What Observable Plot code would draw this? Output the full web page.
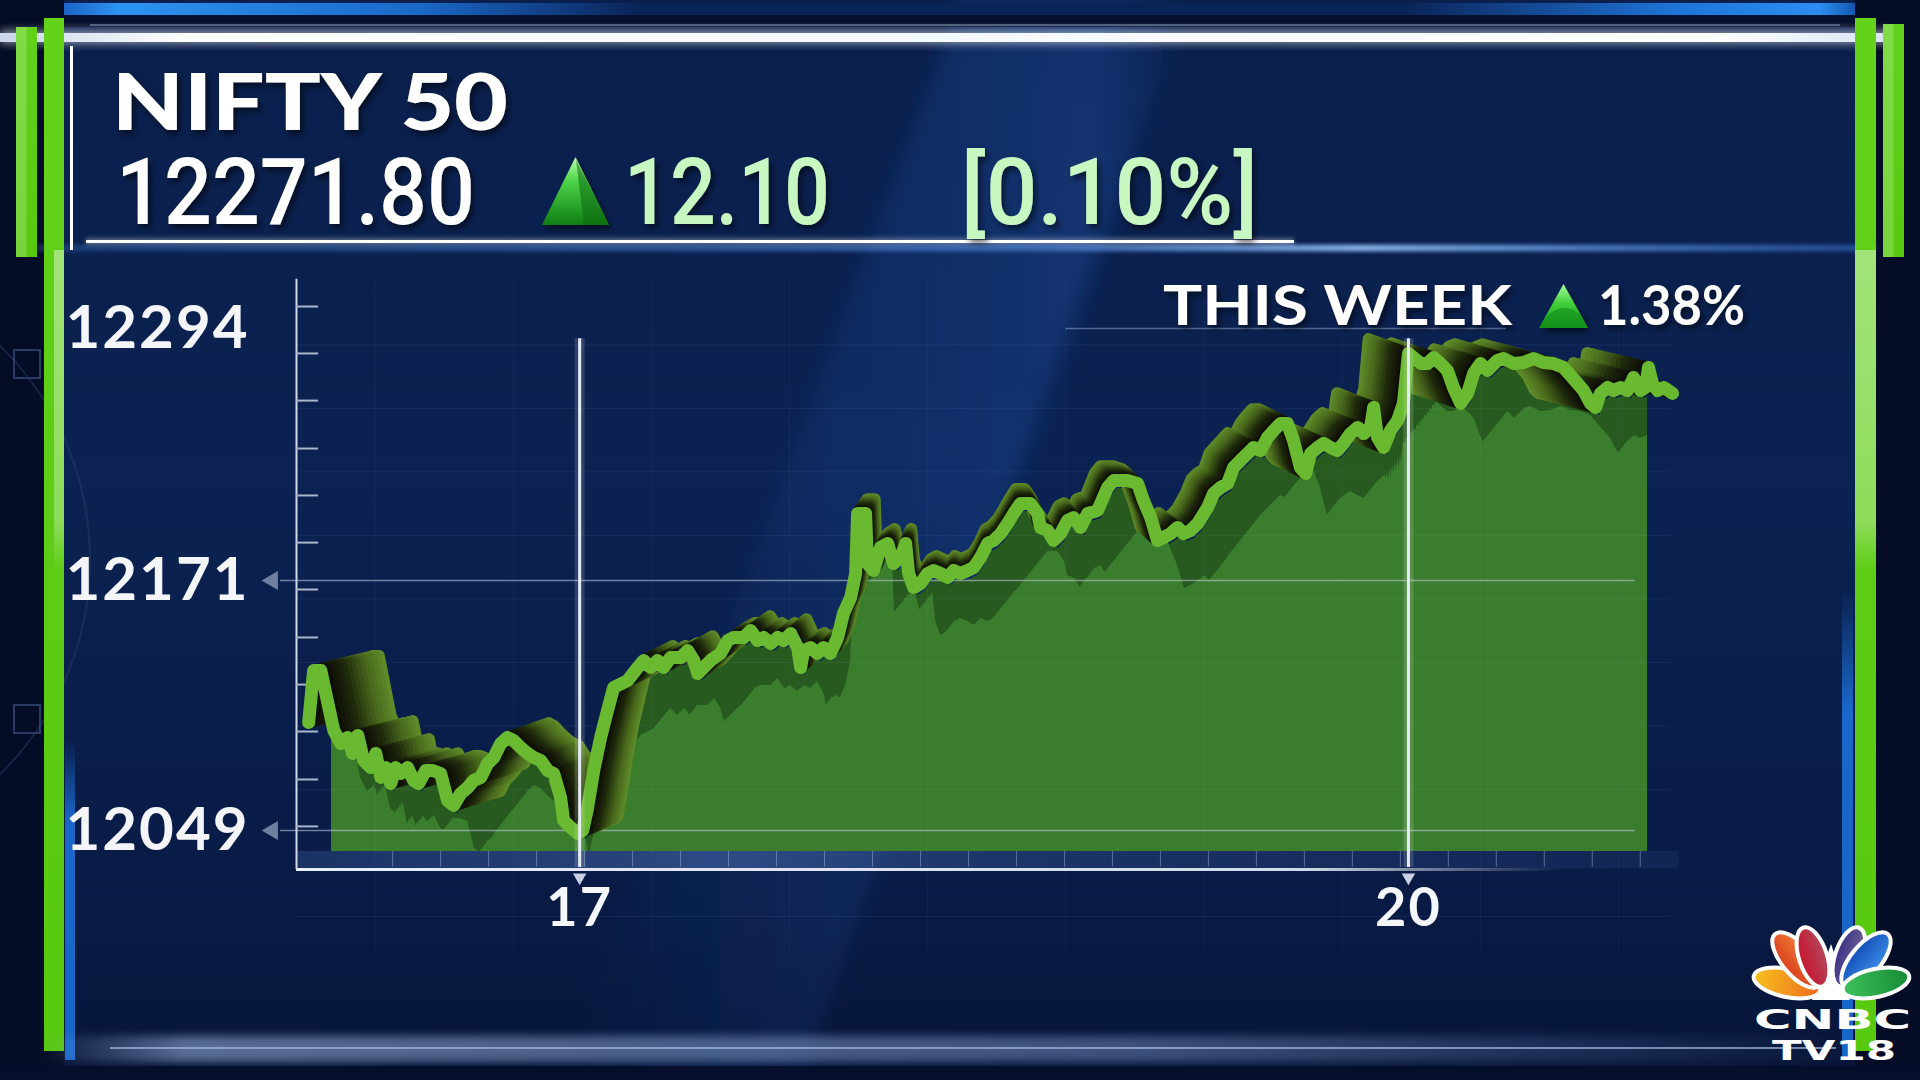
<!DOCTYPE html>
<html><head><meta charset="utf-8">
<script src="https://cdn.jsdelivr.net/npm/d3@7"></script>
<script src="https://cdn.jsdelivr.net/npm/@observablehq/plot@0.6"></script>
<style>
html,body{margin:0;padding:0;background:#030a1f;}
#stage{position:relative;width:1920px;height:1080px;overflow:hidden;}
#stage > svg, #stage > div{position:absolute;left:0;top:0;}
</style></head><body>
<div id="stage"></div>
<script>
// ---------------- DATA ----------------
const indexName = "NIFTY 50";
const lastPrice = "12271.80";
const change = "12.10";
const changePct = "[0.10%]";
const weekLabel = "THIS WEEK";
const weekPct = "1.38%";

// intraday time (day of month, fractional) and index level
const times = [
16.019,16.037,16.063,16.110,16.135,16.160,16.178,16.197,16.218,16.244,
16.262,16.280,16.298,16.316,16.334,16.352,16.377,16.399,16.417,16.443,
16.468,16.497,16.522,16.544,16.569,16.595,16.616,16.642,16.667,16.689,
16.714,16.739,16.761,16.786,16.812,16.834,16.859,16.884,16.906,16.931,
16.942,16.967,16.993,17.011,17.029,17.051,17.076,17.101,
17.123,17.174,17.210,17.232,17.257,17.282,17.304,17.329,17.366,17.391,
17.413,17.427,17.449,17.474,17.510,17.536,17.557,17.594,17.619,17.644,
17.666,17.691,17.717,17.738,17.764,17.789,17.800,17.811,17.836,17.861,
17.883,17.908,17.934,17.955,17.981,17.999,18.006,18.035,18.042,18.064,
18.089,18.115,
18.136,18.162,18.180,18.191,18.209,18.234,18.259,18.281,18.307,18.332,
18.354,18.379,18.404,18.426,18.451,18.477,18.498,18.524,18.549,18.571,
18.596,18.632,18.658,18.668,18.694,18.716,18.741,18.766,18.788,18.813,
18.839,18.875,18.911,18.933,18.983,19.020,19.041,19.067,19.092,19.114,
19.139,19.164,19.186,19.211,19.237,
19.273,19.295,19.320,19.345,19.367,19.392,19.418,19.439,19.465,19.490,
19.512,19.537,19.562,19.584,19.609,19.628,19.646,19.671,19.693,19.718,
19.743,19.765,19.790,19.816,19.838,19.863,19.874,19.888,19.910,19.935,
19.961,19.982,20.000,20.018,20.044,20.069,20.091,20.116,20.141,20.163,
20.189,20.214,20.236,20.261,20.286,20.322,
20.344,20.380,20.417,20.453,20.489,20.525,20.561,20.587,20.612,20.634,
20.659,20.677,20.695,20.721,20.742,20.768,20.793,20.815,20.840,20.858,
20.869,20.883,20.902,20.924,20.956];
const nifty = [
12101.7,12127.1,12127.1,12097.8,12091.4,12094.4,12086.6,12095.4,12083.2,12079.7,
12086.6,12074.9,12079.7,12071.9,12079.7,12076.8,12079.7,12073.4,12071.9,12078.3,
12078.3,12076.8,12063.6,12061.2,12067.0,12070.0,12073.4,12074.9,12081.7,12084.6,
12091.4,12094.4,12092.9,12089.5,12086.6,12084.6,12083.2,12078.3,12076.8,12065.1,
12053.9,12050.5,12047.5,12049.0,12060.2,12078.3,12094.4,12107.6,
12118.8,12122.2,12128.5,12132.0,12128.5,12132.0,12128.5,12133.4,12133.4,12136.8,
12132.0,12125.6,12128.5,12132.0,12135.4,12141.7,12143.2,12143.2,12146.6,12141.7,
12143.2,12140.3,12143.2,12141.7,12145.1,12138.3,12128.5,12136.8,12138.3,12135.4,
12138.3,12135.4,12143.2,12154.9,12162.7,12174.4,12203.7,12203.7,12179.3,12175.9,
12187.1,12189.1,
12179.3,12182.2,12189.1,12174.4,12167.6,12169.5,12174.4,12175.9,12174.4,12172.5,
12175.9,12174.4,12175.9,12177.3,12182.2,12189.1,12190.5,12193.9,12198.8,12203.7,
12208.6,12208.6,12203.7,12196.9,12195.4,12190.5,12193.9,12200.3,12201.7,12196.9,
12203.7,12205.2,12216.4,12219.8,12219.8,12218.3,12210.0,12201.7,12190.5,12192.0,
12193.9,12196.9,12193.9,12195.4,12198.8,
12206.6,12213.5,12216.4,12218.3,12226.1,12229.6,12233.0,12235.9,12234.4,12240.8,
12244.2,12247.6,12247.6,12239.3,12226.1,12223.2,12233.0,12235.9,12237.9,12235.9,
12234.4,12237.9,12242.7,12245.7,12242.7,12245.7,12255.4,12240.8,12235.9,12244.2,
12249.1,12257.4,12281.8,12279.8,12276.9,12276.9,12279.8,12276.9,12273.5,12265.2,
12257.4,12262.3,12272.0,12276.9,12273.5,12278.4,
12279.3,12276.9,12277.4,12279.3,12277.4,12276.9,12275.0,12271.0,12267.1,12263.7,
12257.4,12255.4,12262.3,12265.2,12263.7,12265.2,12263.7,12270.1,12263.7,12265.2,
12275.0,12267.1,12263.7,12265.2,12262.3];

const yLabels = [12294, 12171, 12049];
const yArrowLabels = [12171, 12049];
const dayTicks = [17, 20];
const yMinorTicks = [12304.7,12281.8,12258.8,12235.4,12212.5,12189.5,12166.6,12143.2,12120.2,12097.3,12073.9,12051.0];
const faintY = [12286,12255,12224,12193,12162,12131,12100,12069,12007];
const faintX = [16.26,16.76,17.26,17.76,18.26,18.76,19.26,19.76,20.26,20.76];

// ---------------- SETUP ----------------
const W = 1920, H = 1080;
const stage = d3.select("#stage");

// ---------- background svg ----------
const bg = stage.append("svg").attr("width", W).attr("height", H);
const defs = bg.append("defs");
function lg(id, stops, o = {}) {
  const g = defs.append("linearGradient").attr("id", id)
    .attr("x1", o.x1 ?? 0).attr("y1", o.y1 ?? 0).attr("x2", o.x2 ?? 0).attr("y2", o.y2 ?? 1);
  if (o.user) g.attr("gradientUnits", "userSpaceOnUse");
  stops.forEach(([off, c, op]) => g.append("stop").attr("offset", off).attr("stop-color", c).attr("stop-opacity", op ?? 1));
  return g;
}
function blur(id, sd) {
  defs.append("filter").attr("id", id).attr("x", "-50%").attr("y", "-50%").attr("width", "200%").attr("height", "200%")
    .append("feGaussianBlur").attr("stdDeviation", sd);
}
blur("b4", 4); blur("b10", 10); blur("b30", 30); blur("b2", 2);

lg("panel", [[0, "#0a1f4c"], [0.45, "#0b2252"], [0.85, "#091b45"], [1, "#071538"]]);
lg("beam", [[0, "#2a5fb8", 0], [0.85, "#2a66c8", 0.28], [1, "#2a66c8", 0]], {x1: 0, y1: 0, x2: 1, y2: 0});
lg("topBlue", [[0, "#1c62c8"], [0.03, "#2c93f2"], [0.2, "#1a68c8"], [0.32, "#0b2458"], [0.75, "#0b2458"], [0.9, "#1e74d8"], [0.98, "#2a8ef0"], [1, "#1458b0"]], {x1: 0, y1: 0, x2: 1, y2: 0});
lg("whiteBar", [[0, "#c9d6ea"], [0.1, "#ffffff"], [0.5, "#f4f8ff"], [0.9, "#ffffff"], [1, "#d8e4f4"]], {x1: 0, y1: 0, x2: 1, y2: 0});
lg("blueGlow", [[0, "#4a88e0", 0.3], [0.55, "#5a9af0", 0.6], [0.72, "#9ccaff", 0.95], [0.85, "#6aa8f4", 0.7], [1, "#3a7ad8", 0.5]], {x1: 0, y1: 0, x2: 1, y2: 0});
lg("greenBar", [[0, "#62d21a"], [1, "#57c90f"]]);
lg("greenHi", [[0, "#ffffff", 0.42], [0.85, "#ffffff", 0.3], [1, "#ffffff", 0]]);
lg("blueStrip", [[0, "#1b6fd6", 0], [0.25, "#1b6fd6", 0.9], [1, "#1766c8", 1]]);
lg("bottomGlow", [[0, "#9ab4e0", 0], [0.08, "#9ab4e0", 0.55], [0.6, "#7e9ad0", 0.45], [0.85, "#6a88c0", 0.2], [1, "#6a88c0", 0]], {x1: 0, y1: 0, x2: 1, y2: 0});
lg("bandGrad", [[0, "#3a5a9a", 0.35], [0.3, "#4a6cb0", 0.55], [0.5, "#3a5a9a", 0.4], [1, "#2a4580", 0.25]], {x1: 0, y1: 0, x2: 1, y2: 0});
lg("axisLine", [[0, "#e8eef8", 1], [0.8, "#e8eef8", 0.9], [1, "#e8eef8", 0]], {x1: 296, y1: 0, x2: 1560, y2: 0, user: true});
lg("triBig", [[0, "#b8ffb0"], [0.35, "#4fd44a"], [1, "#0e7d12"]]);
lg("triSmall", [[0, "#a8ffa0"], [0.45, "#3fcf3a"], [1, "#14901a"]]);
lg("featherY", [[0, "#f6c21e"], [1, "#ef6b20"]], {x1: 0, y1: 0, x2: 1, y2: 0});
lg("featherO", [[0, "#f07a3a"], [1, "#d9401c"]]);
lg("featherR", [[0, "#b2475a"], [1, "#c8142e"]]);
lg("featherP", [[0, "#776a9a"], [1, "#3a2f86"]]);
lg("featherB", [[0, "#3a8ae6"], [1, "#1450b8"]]);
lg("featherG", [[0, "#3ec25a"], [1, "#168a36"]], {x1: 1, y1: 0, x2: 0, y2: 0});
defs.append("filter").attr("id", "shadow").attr("x", "-10%").attr("y", "-20%").attr("width", "130%").attr("height", "150%")
  .append("feDropShadow").attr("dx", 3).attr("dy", 4).attr("stdDeviation", 3).attr("flood-color", "#000").attr("flood-opacity", 0.55);

bg.append("rect").attr("width", W).attr("height", H).attr("fill", "#040c26");
bg.append("rect").attr("x", 64).attr("y", 0).attr("width", 1791).attr("height", 1068).attr("fill", "url(#panel)");
bg.append("polygon").attr("points", "960,0 1190,0 800,1080 560,1080").attr("fill", "url(#beam)").attr("filter", "url(#b10)");
bg.append("circle").attr("cx", -210).attr("cy", 560).attr("r", 300).attr("fill", "none").attr("stroke", "#2a3c66").attr("stroke-opacity", 0.5).attr("stroke-width", 2);
bg.append("rect").attr("x", 14).attr("y", 350).attr("width", 26).attr("height", 28).attr("fill", "none").attr("stroke", "#2a3c66").attr("stroke-width", 2);
bg.append("rect").attr("x", 14).attr("y", 705).attr("width", 26).attr("height", 28).attr("fill", "none").attr("stroke", "#2a3c66").attr("stroke-width", 2);

bg.append("rect").attr("x", 64).attr("y", 3).attr("width", 1791).attr("height", 12).attr("fill", "url(#topBlue)");
bg.append("rect").attr("x", 64).attr("y", 15).attr("width", 1791).attr("height", 12).attr("fill", "#07122e");
bg.append("rect").attr("x", 90).attr("y", 24).attr("width", 1750).attr("height", 2).attr("fill", "#46577a");
bg.append("rect").attr("x", 0).attr("y", 30).attr("width", 1895).attr("height", 14).attr("fill", "#ffffff").attr("opacity", 0.5).attr("filter", "url(#b4)");
bg.append("rect").attr("x", 0).attr("y", 33).attr("width", 1895).attr("height", 9).attr("fill", "url(#whiteBar)");
bg.append("rect").attr("x", 37).attr("y", 245).attr("width", 1838).attr("height", 6).attr("fill", "url(#blueGlow)").attr("filter", "url(#b2)");
bg.append("rect").attr("x", 86).attr("y", 240).attr("width", 1208).attr("height", 3).attr("fill", "#ffffff");
bg.append("rect").attr("x", 86).attr("y", 238).attr("width", 1208).attr("height", 7).attr("fill", "#ffffff").attr("opacity", 0.3).attr("filter", "url(#b2)");
bg.append("rect").attr("x", 70).attr("y", 46).attr("width", 3).attr("height", 204).attr("fill", "#ffffff");
bg.append("rect").attr("x", 1842).attr("y", 590).attr("width", 11).attr("height", 470).attr("fill", "url(#blueStrip)");
bg.append("rect").attr("x", 65).attr("y", 740).attr("width", 10).attr("height", 320).attr("fill", "url(#blueStrip)");
[[44, 18, 20, 1033], [1855, 18, 21, 1033], [16, 27, 21, 230], [1883, 24, 21, 233]].forEach(([x, y, w, h], i) => {
  bg.append("rect").attr("x", x).attr("y", y).attr("width", w).attr("height", h).attr("fill", "url(#greenBar)");
  if (i < 2) {
    bg.append("rect").attr("x", x + (i === 0 ? w / 2 : 0)).attr("y", 250).attr("width", i === 0 ? w / 2 : w).attr("height", 320).attr("fill", "url(#greenHi)");
  } else {
    bg.append("rect").attr("x", x).attr("y", y).attr("width", w / 2).attr("height", h).attr("fill", "#ffffff").attr("opacity", 0.2);
  }
});
bg.append("rect").attr("x", 40).attr("y", 1036).attr("width", 1820).attr("height", 26).attr("fill", "url(#bottomGlow)").attr("filter", "url(#b4)");
bg.append("rect").attr("x", 110).attr("y", 1047).attr("width", 1726).attr("height", 2).attr("fill", "#a6b8da").attr("opacity", 0.7);
bg.append("rect").attr("x", 0).attr("y", 1066).attr("width", W).attr("height", 14).attr("fill", "#050f2c");

// ---------------- PLOT ----------------
const data = times.map((t, i) => ({t, v: nifty[i]}));
const xDomain = [15.975, 21.05], xRange = [296, 1698];
const yDomain = [12049, 12171], yRange = [830, 580];
const axisStart = xDomain[0];
const floorVal = 11990;
const base = {
  width: W, height: H,
  marginLeft: 331, marginRight: 273, marginTop: 150, marginBottom: 229,
  x: {domain: xDomain, range: xRange, axis: null},
  y: {domain: yDomain, range: yRange, axis: null},
  style: {background: "transparent", overflow: "visible", fontFamily: "Lato, sans-serif"}
};

// filled areas (clipped to the fill box): dark shadow under ribbon, lighter body swept for depth
const lightSteps = d3.range(0, 13).map(i => i / 12);
const areaPlot = Plot.plot({
  ...base,
  marks: [
    Plot.areaY(data, {x: "t", y1: floorVal, y2: "v", fill: "#275a1f", dx: 4, dy: 8, clip: true}),
    ...lightSteps.map(s => Plot.areaY(data, {x: "t", y1: floorVal, y2: "v", fill: "#3a7e2d", dx: -5 + 32 * s, dy: 88 - 40 * s, clip: true}))
  ]
});
stage.append("div").node().appendChild(areaPlot);

// 3D ribbon wall layers (perspective toward the centre)
const tc = 18.4, k = 0.09, dv = 7;
const wallSteps = d3.range(14, 0, -1).map(i => i / 14);
const wallInterp = d3.scaleLinear().domain([0, 0.35, 0.7, 1]).range(["#0a0703", "#1f2a0b", "#48671c", "#5e8a29"]).interpolate(d3.interpolateRgb);
const wallMarks = wallSteps.map(s => Plot.line(
  data.map(d => ({t: d.t + s * k * (tc - d.t), v: d.v + s * dv})),
  {x: "t", y: "v", stroke: wallInterp(s), strokeWidth: 12, strokeLinejoin: "round"}));

const bandTicks = d3.range(0, 27).map(i => 16.323 + i * 0.1737);

const mainPlot = Plot.plot({
  ...base,
  marks: [
    Plot.ruleY(faintY, {x1: axisStart, x2: 20.95, stroke: "#a8c0ee", strokeOpacity: 0.08}),
    Plot.ruleX(faintX, {y1: 12318, y2: 11990, stroke: "#a8c0ee", strokeOpacity: 0.06}),
    Plot.rect([0], {x1: axisStart, x2: 20.98, y1: 12038.8, y2: 12030.2, fill: "url(#bandGrad)"}),
    Plot.ruleX(bandTicks, {y1: 12038.8, y2: 12031, stroke: "#b0c0e0", strokeOpacity: 0.45}),
    Plot.ruleY([12030], {x1: axisStart, x2: 20.6, stroke: "url(#axisLine)", strokeWidth: 3}),
    Plot.ruleX([axisStart], {y1: 12318, y2: 12030, stroke: "#d0d8e8", strokeWidth: 2}),
    Plot.ruleY(yMinorTicks, {x1: axisStart, x2: axisStart + 0.08, stroke: "#aab6cc", strokeWidth: 2}),
    Plot.ruleY(yArrowLabels, {x1: 15.917, x2: 20.821, stroke: "#c4d0ea", strokeOpacity: 0.55, strokeWidth: 1.5}),
    Plot.ruleY([12294], {x1: 18.76, x2: 20.355, stroke: "#c4d0ea", strokeOpacity: 0.4, strokeWidth: 1.5}),
    ...wallMarks,
    Plot.line(data, {x: "t", y: "v", stroke: "#69b931", strokeWidth: 13, strokeLinejoin: "round"}),
    Plot.ruleX(dayTicks, {y1: 12289, y2: 12031, stroke: "#ffffff", strokeOpacity: 0.15, strokeWidth: 10}),
    Plot.ruleX(dayTicks, {y1: 12289, y2: 12031, stroke: "#e6ecf6", strokeWidth: 3}),
    Plot.dot(dayTicks, {x: d => d, frameAnchor: "bottom", dy: 26, symbol: "triangle", rotate: 180, r: 5, fill: "#c8d2e4"}),
    Plot.text(dayTicks, {x: d => d, frameAnchor: "bottom", dy: 57, text: d => String(d), fontSize: 54, fontWeight: 700, fill: "#f4f6fa", lineAnchor: "middle"}),
    Plot.dot(yArrowLabels, {y: d => d, frameAnchor: "left", dx: -59, symbol: "triangle", rotate: -90, r: 7, fill: "#6f7f9f"}),
    Plot.text(yLabels, {y: d => d, frameAnchor: "left", dx: -82, text: d => String(d), textAnchor: "end", fontSize: 60, fontWeight: 700, fill: "#f3f5f8", lineAnchor: "middle"})
  ]
});
stage.append("div").node().appendChild(mainPlot);
d3.select(mainPlot).selectAll("text").style("letter-spacing", "2px");

// ---------- foreground svg (header, logo) ----------
const fg = stage.append("svg").attr("width", W).attr("height", H);
function txt(str, x, y, size, len, opts = {}) {
  return fg.append("text").attr("x", x).attr("y", y).text(str)
    .attr("font-family", opts.family || "Lato, sans-serif").attr("font-weight", opts.weight || 700)
    .attr("font-size", size).attr("fill", opts.fill || "#ffffff")
    .attr("textLength", len).attr("lengthAdjust", "spacingAndGlyphs")
    .attr("filter", opts.noShadow ? null : "url(#shadow)");
}
txt(indexName, 112, 130, 79, 396, {weight: 900});
txt(lastPrice, 116, 224, 93, 359, {family: "Roboto, sans-serif", weight: 500});
fg.append("polygon").attr("points", "542,225 575.5,157 609,225").attr("fill", "url(#triBig)").attr("filter", "url(#shadow)");
fg.append("polygon").attr("points", "576,160 609,225 584,225").attr("fill", "#0d6a10").attr("opacity", 0.55);
txt(change, 624, 224, 93, 206, {family: "Roboto, sans-serif", weight: 500, fill: "#c8f7c2"});
txt(changePct, 961, 224, 93, 297, {family: "Roboto, sans-serif", weight: 500, fill: "#c8f7c2"});

txt(weekLabel, 1163, 325, 56, 349, {weight: 700});
fg.append("polygon").attr("points", "1539,328 1563.5,284 1588,328").attr("fill", "url(#triSmall)").attr("filter", "url(#shadow)");
fg.append("path").attr("d", "M1547,316 Q1565,300 1581,316 L1588,328 L1539,328 Z").attr("fill", "#109018").attr("opacity", 0.6);
txt(weekPct, 1598, 325, 56, 147, {weight: 700});

// CNBC TV18 logo
const logo = fg.append("g");
const feathers = [
  {cx: 1787, cy: 983, rx: 34, ry: 14, a: 12, f: "url(#featherY)"},
  {cx: 1797, cy: 960, rx: 34, ry: 15, a: 50, f: "url(#featherO)"},
  {cx: 1813, cy: 957, rx: 31, ry: 14, a: 72, f: "url(#featherR)"},
  {cx: 1849, cy: 957, rx: 31, ry: 14, a: 108, f: "url(#featherP)"},
  {cx: 1866, cy: 960, rx: 34, ry: 15, a: 130, f: "url(#featherB)"},
  {cx: 1876, cy: 983, rx: 34, ry: 14, a: 168, f: "url(#featherG)"}
];
logo.append("polygon").attr("points", "1812,1000 1831,944 1850,1000").attr("fill", "#ffffff");
feathers.forEach(p => {
  logo.append("ellipse").attr("cx", p.cx).attr("cy", p.cy).attr("rx", p.rx).attr("ry", p.ry)
    .attr("transform", `rotate(${p.a},${p.cx},${p.cy})`)
    .attr("fill", p.f).attr("stroke", "#ffffff").attr("stroke-width", 4);
});
logo.append("polygon").attr("points", "1822,1000 1831,958 1840,1000").attr("fill", "#ffffff");
txt("CNBC", 1754, 1029, 26, 157, {family: "DejaVu Sans, sans-serif", weight: 700, noShadow: true});
txt("TV18", 1772, 1060, 26, 124, {family: "DejaVu Sans, sans-serif", weight: 700, noShadow: true});
</script>
</body></html>
